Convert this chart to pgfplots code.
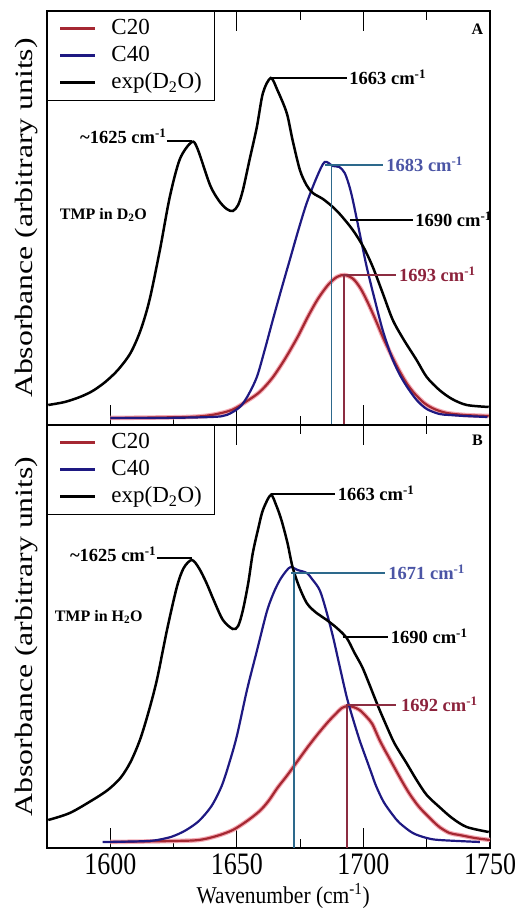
\documentclass[border=0pt]{standalone}
\usepackage{fontspec}
\setmainfont{Liberation Serif}
\usepackage{graphicx}
\usepackage{pgfplots}
\pgfplotsset{compat=1.18}

\definecolor{cR}{RGB}{165,40,50}
\definecolor{cHalo}{RGB}{245,170,180}
\definecolor{cB}{RGB}{30,25,130}
\definecolor{vB}{RGB}{45,105,140}
\definecolor{tB}{RGB}{75,85,165}
\definecolor{vR}{RGB}{140,45,65}
\definecolor{tR}{RGB}{140,35,60}

\newcommand\tl[1]{\scalebox{1}[1.2]{#1}}
\newcommand\ann{\fontsize{18.5}{22}\bfseries\selectfont}

\pgfplotsset{
  panel/.style={
    scale only axis, width=443pt,
    xmin=1575, xmax=1750, ymin=0,
    axis line style={line width=1.6pt},
    xtick={1600,1650,1700,1750}, minor x tick num=1,
    tick align=inside, xtick pos=both, ytick=\empty,
    major tick length=20pt, minor tick length=9pt,
    every tick/.style={line width=1.2pt, black},
    ylabel={\scalebox{1.27}[1]{Absorbance (arbitrary units)}},
    ylabel style={at={(axis description cs:-0.047,0.5)}, anchor=center, font=\fontsize{25}{28}\selectfont},
    legend style={at={(0,1)}, anchor=north west, draw=black, line width=1pt,
      inner xsep=11pt, inner ysep=4pt, column sep=13pt,
      font=\fontsize{23}{27}\selectfont,
      nodes={text height=17pt, text depth=6pt, inner sep=2pt}},
    legend cell align=left,
    legend image code/.code={\draw[##1, line width=3pt] (0pt,0pt) -- (35pt,0pt);},
  },
  red line/.style={cR, line width=2.2pt, smooth},
  halo/.style={cHalo, line width=4.5pt, smooth, forget plot},
  blue line/.style={cB, line width=2.2pt, smooth},
  black line/.style={black, line width=2.5pt, smooth},
  mark line/.style={line width=1.7pt, forget plot},
}

\begin{document}
\begin{tikzpicture}
\useasboundingbox (-47pt,-60pt) rectangle (473pt,848pt);

% ---------------- panel A (D2O) ----------------
\begin{axis}[panel, name=A, at={(0,423pt)}, anchor=south west,
    height=414pt, ymax=414, xticklabels={}]
  \addplot[halo] coordinates {(1600,7) (1630,8) (1640,10) (1648,15) (1654,24) (1659,33) (1664,47) (1669,66) (1674,88) (1678,108) (1682,126) (1686,140) (1689.5,148) (1692.6,150) (1696,146) (1699,136) (1702,121) (1705,104) (1708,86) (1711,70) (1714,55) (1717,42) (1720,32) (1724,22) (1728,16) (1733,12) (1740,10) (1749.5,9)};
  \addplot[red line] coordinates {(1600,7) (1630,8) (1640,10) (1648,15) (1654,24) (1659,33) (1664,47) (1669,66) (1674,88) (1678,108) (1682,126) (1686,140) (1689.5,148) (1692.6,150) (1696,146) (1699,136) (1702,121) (1705,104) (1708,86) (1711,70) (1714,55) (1717,42) (1720,32) (1724,22) (1728,16) (1733,12) (1740,10) (1749.5,9)};
  \addlegendentry{C20}
  \addplot[blue line] coordinates {(1600,7) (1620,7) (1640,8) (1646,10) (1651.2,18) (1654.5,30) (1657.9,48) (1661,75) (1664.2,105) (1667.5,135) (1670.9,165) (1674.3,195) (1677.6,222) (1681.6,248) (1684.7,263) (1687.9,259) (1690.5,258) (1692.6,252) (1694.3,240) (1695.8,225) (1698.5,192) (1701.3,158) (1704.5,125) (1707.6,95) (1711,69) (1714,52) (1717,39) (1721,25) (1725,16) (1730,11) (1734,10) (1740,9) (1749,8)};
  \addlegendentry{C40}
  \addplot[black line] coordinates {(1575.5,20) (1582,23) (1588,28) (1593,34) (1598,43) (1603,55) (1608,72) (1612,95) (1615.5,125) (1619.6,175) (1623.5,228) (1627.5,266) (1632.2,283) (1634.5,276) (1639.4,240) (1643,224) (1646,216) (1648.4,214) (1650.5,220) (1652.4,235) (1655,265) (1657.9,298) (1660.3,332) (1663.4,347) (1666,335) (1669.7,312) (1672,285) (1674.9,255) (1677.5,240) (1680,232) (1684,226) (1687.9,218) (1691,210) (1695.8,195) (1700,178) (1703.7,158) (1707.6,132) (1711.6,105) (1716,85) (1721,65) (1725,48) (1730,35) (1735,26) (1740.8,20) (1749.5,18)};
  \addlegendentry{exp(D\textsubscript{2}O)}
  % peak markers
  \addplot[vB, mark line] coordinates {(1687.4,0) (1687.4,260)};
  \addplot[vB, mark line] coordinates {(1685,260) (1707.6,260)};
  \addplot[vR, mark line] coordinates {(1692.4,0) (1692.4,150) (1713,150)};
  \addplot[black, mark line] coordinates {(1663.4,347) (1693.4,347)};
  \addplot[black, mark line] coordinates {(1694.6,205) (1719.5,205)};
  \addplot[black, mark line] coordinates {(1622.4,284) (1632.2,284)};
  \node[anchor=west, font=\ann, text=tB, inner sep=1pt] at (axis cs:1708.6,261) {1683 cm\textsuperscript{-1}};
  \node[anchor=west, font=\ann, text=tR, inner sep=1pt] at (axis cs:1713.6,151) {1693 cm\textsuperscript{-1}};
  \node[anchor=west, font=\ann, inner sep=1pt] at (axis cs:1694,348) {1663 cm\textsuperscript{-1}};
  \node[anchor=west, font=\ann, inner sep=1pt] at (axis cs:1720,206) {1690 cm\textsuperscript{-1}};
  \node[anchor=east, font=\ann, inner sep=1pt] at (axis cs:1622.6,289) {\textasciitilde1625 cm\textsuperscript{-1}};
  \node[anchor=west, font=\fontsize{16}{18}\bfseries\selectfont, inner sep=0pt] at (axis cs:1580,210) {TMP in D\textsubscript{2}O};
  \node[font=\fontsize{16}{18}\bfseries\selectfont] at (axis cs:1745,396) {A};
\end{axis}

% ---------------- panel B (H2O) ----------------
\begin{axis}[panel, name=B, at={(0,0)}, anchor=south west,
    height=423pt, ymax=423,
    xticklabels={\tl{1600},\tl{1650},\tl{1700},\tl{1750}},
    xticklabel style={anchor=center, inner sep=0pt, yshift=-16.5pt, font=\fontsize{26}{30}\selectfont},
    xlabel={\scalebox{1}[1.12]{Wavenumber (cm\textsuperscript{-1})}},
    xlabel style={at={(axis description cs:0.533,0)}, anchor=center, inner sep=0pt, yshift=-48pt, font=\fontsize{21.5}{26}\selectfont}]
  \addplot[halo] coordinates {(1600,6) (1625,7) (1635,8) (1642,12) (1648.4,18) (1654,27) (1659,37) (1662.5,47) (1666,60) (1670,73) (1674,87) (1678,101) (1682,114) (1686,126) (1689,134) (1691.5,140) (1693.8,142) (1696,141) (1698.5,138) (1701.3,131) (1703.5,124) (1706,110) (1708,100) (1710.4,89) (1714.3,71) (1718,55) (1722,41) (1727,28) (1730,21) (1734,15) (1738,13) (1744,10) (1750,8)};
  \addplot[red line] coordinates {(1600,6) (1625,7) (1635,8) (1642,12) (1648.4,18) (1654,27) (1659,37) (1662.5,47) (1666,60) (1670,73) (1674,87) (1678,101) (1682,114) (1686,126) (1689,134) (1691.5,140) (1693.8,142) (1696,141) (1698.5,138) (1701.3,131) (1703.5,124) (1706,110) (1708,100) (1710.4,89) (1714.3,71) (1718,55) (1722,41) (1727,28) (1730,21) (1734,15) (1738,13) (1744,10) (1750,8)};
  \addlegendentry{C20}
  \addplot[blue line] coordinates {(1597,6) (1615,7) (1622.4,10) (1626,13) (1630,18) (1635,27) (1640,42) (1644,62) (1647,85) (1650,112) (1654,158) (1658,198) (1661.8,236) (1664.5,255) (1667,268) (1669.5,277) (1671.3,281) (1674,278) (1677.6,275) (1680,268) (1682.7,258) (1685,240) (1688,211) (1690.5,183) (1693.4,151) (1696,128) (1698.6,107) (1701,90) (1703,76) (1705,62) (1708,46) (1711.6,33) (1714.3,25) (1719.5,15) (1725,10) (1730,8) (1746,6)};
  \addlegendentry{C40}
  \addplot[black line] coordinates {(1575.5,28) (1584,35) (1593,48) (1599,58) (1604,70) (1608,86) (1611.7,108) (1615,135) (1618.4,168) (1622.4,218) (1626.3,261) (1629,280) (1632.2,288) (1635,280) (1638,265) (1641,247) (1644.5,228) (1648.4,219) (1650.5,222) (1652.4,238) (1654.5,265) (1656.3,295) (1658.5,320) (1660.3,338) (1663.4,353) (1665.5,343) (1667.6,328) (1670,305) (1672,281) (1674.5,262) (1677.6,245) (1681,236) (1685.5,228) (1689.5,220) (1693.4,210) (1696.5,195) (1699.7,180) (1703.7,155) (1706.4,138) (1711.6,108) (1714.3,96) (1717,85) (1721,68) (1725,53) (1730,41) (1735,30) (1740.8,21) (1749.5,16)};
  \addlegendentry{exp(D\textsubscript{2}O)}
  % peak markers
  \addplot[vB, mark line] coordinates {(1672.6,0) (1672.6,275)};
  \addplot[vB, mark line] coordinates {(1671.3,275) (1708.4,275)};
  \addplot[vR, mark line] coordinates {(1693.5,0) (1693.5,143) (1713,143)};
  \addplot[black, mark line] coordinates {(1663.4,354) (1688.7,354)};
  \addplot[black, mark line] coordinates {(1691.8,211) (1709.6,211)};
  \addplot[black, mark line] coordinates {(1618.4,290) (1632.2,290)};
  \node[anchor=west, font=\ann, text=tB, inner sep=1pt] at (axis cs:1709.4,276) {1671 cm\textsuperscript{-1}};
  \node[anchor=west, font=\ann, text=tR, inner sep=1pt] at (axis cs:1714.4,144) {1692 cm\textsuperscript{-1}};
  \node[anchor=west, font=\ann, inner sep=1pt] at (axis cs:1689.4,355) {1663 cm\textsuperscript{-1}};
  \node[anchor=west, font=\ann, inner sep=1pt] at (axis cs:1710.4,212) {1690 cm\textsuperscript{-1}};
  \node[anchor=east, font=\ann, inner sep=1pt] at (axis cs:1618.6,294) {\textasciitilde1625 cm\textsuperscript{-1}};
  \node[anchor=west, font=\fontsize{16}{18}\bfseries\selectfont, inner sep=0pt] at (axis cs:1578,231) {TMP in H\textsubscript{2}O};
  \node[font=\fontsize{16}{18}\bfseries\selectfont] at (axis cs:1745,408) {B};
\end{axis}
\end{tikzpicture}
\end{document}
